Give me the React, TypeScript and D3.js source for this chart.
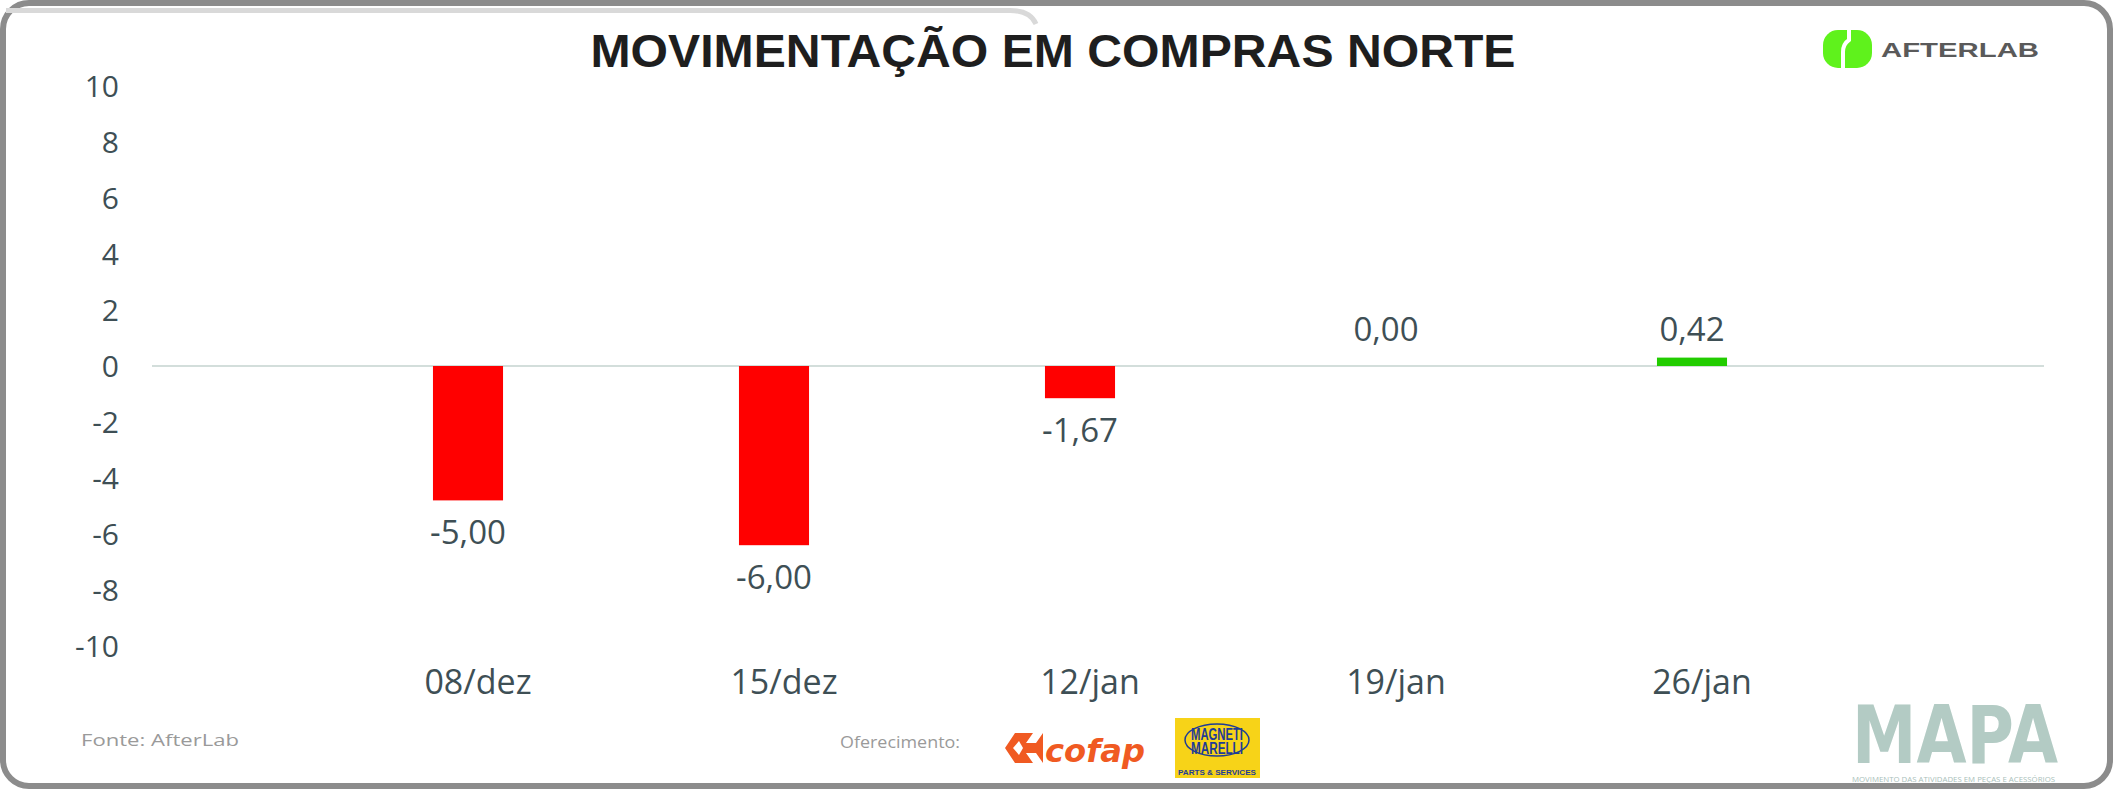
import * as d3 from "d3";
import { useRef, useEffect } from "react";

const title = "MOVIMENTAÇÃO EM COMPRAS NORTE";
const categories = ["08/dez", "15/dez", "12/jan", "19/jan", "26/jan"];
// values printed on the bars
const values = [-5.0, -6.0, -1.67, 0.0, 0.42];
// bar lengths as they are drawn in the picture
const barValues = [-4.8, -6.4, -1.15, 0, 0.3];
const yTicks = [-10, -8, -6, -4, -2, 0, 2, 4, 6, 8, 10];
const sourceText = "Fonte: AfterLab";
const sponsorText = "Oferecimento:";

const W = 2116;
const H = 791;
const textColor = "#3e4f55";
const font = "'Open Sans', 'Noto Sans', sans-serif";

const ptBR = d3.formatLocale({
  decimal: ",",
  thousands: ".",
  grouping: [3],
  currency: ["R$", ""],
  minus: "-",
});
const fmtValue = ptBR.format(".2f");
const fmtTick = ptBR.format("d");

const App = () => {
  const gx = useRef<SVGGElement>(null);
  const gy = useRef<SVGGElement>(null);

  const x = d3.scaleBand<string>()
    .domain(categories)
    .range([315, 1845])
    .paddingInner(0.771)
    .paddingOuter(0.3855);

  const y = d3.scaleLinear()
    .domain([-10, 10])
    .range([646, 86]);

  useEffect(() => {
    if (gy.current) {
      const g = d3.select(gy.current);
      g.call(d3.axisLeft(y).tickValues(yTicks).tickSize(0).tickPadding(0).tickFormat(d => fmtTick(d as number)));
      g.select(".domain").remove();
      g.attr("font-family", font).attr("font-size", 30);
      g.selectAll("text").attr("fill", textColor).attr("dy", "0.35em");
    }
    if (gx.current) {
      const g = d3.select(gx.current);
      g.call(d3.axisBottom(x).tickSize(0).tickPadding(0));
      g.select(".domain").remove();
      g.attr("font-family", font).attr("font-size", 34);
      g.selectAll("text").attr("fill", textColor).attr("y", 0).attr("dy", "0.35em");
    }
  }, [x, y]);

  return (
    <svg width={W} height={H} style={{ position: "absolute", left: 0, top: 0, background: "#fff" }}>
      {/* frame */}
      <rect x={3} y={3} width={W - 9} height={H - 8} rx={26} fill="#fff" stroke="#8c8c8c" strokeWidth={6} />
      <path d="M6,10.5 H1010 Q1030,10.5 1036,24" fill="none" stroke="#d9d9d9" strokeWidth={5} />

      {/* title */}
      <text x={1053} y={67} textAnchor="middle" fontFamily="'Liberation Sans', Arial, sans-serif"
        fontWeight="bold" fontSize={46} fill="#1e1e1e" textLength={925} lengthAdjust="spacingAndGlyphs">
        {title}
      </text>

      {/* AfterLab logo */}
      <g>
        <rect x={1823} y={30} width={49} height={38} rx={15} fill="#5ff21c" />
        <path d="M1849,30 V40 Q1843,44 1843,52 V68" fill="none" stroke="#fff" strokeWidth={4} />
        <text x={1881} y={57} fontFamily="'Liberation Sans', Arial, sans-serif" fontWeight="bold"
          fontSize={20} fill="#5a5a5a" textLength={158} lengthAdjust="spacingAndGlyphs">AFTERLAB</text>
      </g>

      {/* axes */}
      <g ref={gy} transform="translate(119,0)" />
      <g ref={gx} transform="translate(10,682)" />

      {/* zero line */}
      <line x1={152} x2={2044} y1={y(0)} y2={y(0)} stroke="#d3dedb" strokeWidth={2} />

      {/* bars */}
      {categories.map((c, i) => (
        <rect key={c} x={x(c)} width={x.bandwidth()}
          y={Math.min(y(0), y(barValues[i]))}
          height={Math.abs(y(barValues[i]) - y(0))}
          fill={values[i] < 0 ? "#ff0000" : "#22cc00"} />
      ))}

      {/* value labels */}
      {categories.map((c, i) => (
        <text key={c} x={(x(c) ?? 0) + x.bandwidth() / 2}
          y={values[i] < 0 ? y(barValues[i]) + 32 : y(0) - 37}
          dy="0.35em" textAnchor="middle" fontFamily={font} fontSize={33} fill={textColor}>
          {fmtValue(values[i])}
        </text>
      ))}

      {/* footer */}
      <text x={81} y={746} fontFamily={font} fontSize={17} fill="#9a9a9a" textLength={158} lengthAdjust="spacingAndGlyphs">
        {sourceText}
      </text>
      <text x={840} y={748} fontFamily={font} fontSize={16} fill="#9a9a9a" textLength={120} lengthAdjust="spacingAndGlyphs">
        {sponsorText}
      </text>

      {/* cofap */}
      <g fill="#f05a22">
        <path d="M1005,748 L1015,733 L1033,733 L1026,743 L1036,743 L1043,733 L1043,763 L1036,753 L1026,753 L1033,763 L1015,763 Z" />
        <path d="M1013,748 L1019,741 L1023,748 L1019,755 Z" fill="#fff" />
        <text x={1045} y={762} fontFamily="'DejaVu Sans', sans-serif" fontWeight="bold" fontStyle="italic"
          fontSize={32} textLength={100} lengthAdjust="spacingAndGlyphs">cofap</text>
      </g>

      {/* Magneti Marelli */}
      <g>
        <rect x={1175} y={718} width={85} height={60} fill="#f7d318" />
        <ellipse cx={1217} cy={740} rx={32} ry={16} fill="none" stroke="#1f3c96" strokeWidth={1.5} />
        <text x={1217} y={740} textAnchor="middle" fontFamily="'Liberation Sans Narrow', 'Liberation Sans', sans-serif"
          fontWeight="bold" fontSize={16} fill="#1f3c96" textLength={52} lengthAdjust="spacingAndGlyphs">MAGNETI</text>
        <text x={1217} y={754} textAnchor="middle" fontFamily="'Liberation Sans Narrow', 'Liberation Sans', sans-serif"
          fontWeight="bold" fontSize={16} fill="#1f3c96" textLength={52} lengthAdjust="spacingAndGlyphs">MARELLI</text>
        <text x={1217} y={775} textAnchor="middle" fontFamily="'Liberation Sans', sans-serif"
          fontWeight="bold" fontSize={8} fill="#1f3c96" textLength={78} lengthAdjust="spacingAndGlyphs">PARTS &amp; SERVICES</text>
      </g>

      {/* MAPA */}
      <g>
        <text x={1852} y={763} fontFamily="'DejaVu Sans', sans-serif" fontWeight="bold" fontSize={80}
          fill="#b3cbc4" textLength={206} lengthAdjust="spacingAndGlyphs">MAPA</text>
        <text x={1852} y={782} fontFamily={font} fontSize={7} fill="#a9c0ba" textLength={203} lengthAdjust="spacingAndGlyphs">
          MOVIMENTO DAS ATIVIDADES EM PEÇAS E ACESSÓRIOS
        </text>
      </g>
    </svg>
  );
};

export default App;
